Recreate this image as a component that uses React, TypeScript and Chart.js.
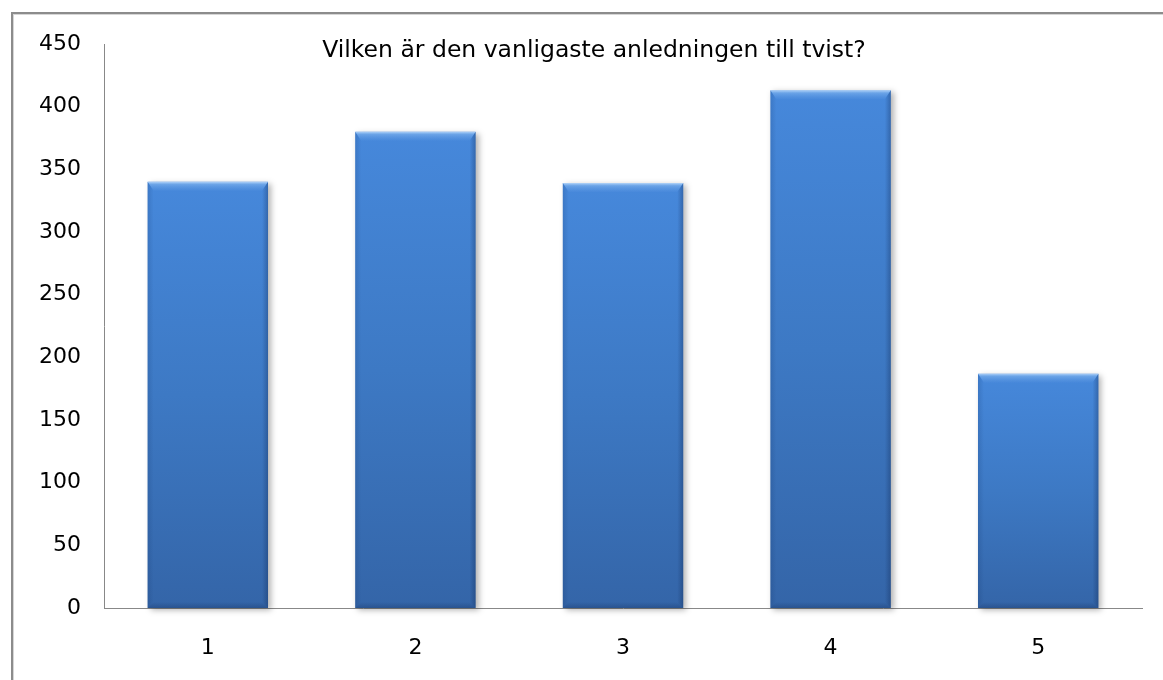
import React, { useEffect, useRef } from 'react';
import { Chart, registerables } from 'chart.js';

Chart.register(...registerables);

const categories: string[] = ['1', '2', '3', '4', '5'];
const values: number[] = [340, 380, 339, 413, 187];
const yMin = 0;
const yMax = 450;
const yStep = 50;
const titleText = 'Vilken är den vanligaste anledningen till tvist?';

const FONT = "'DejaVu Sans', 'Liberation Sans', Arial, sans-serif";

const shadowPlugin = {
  id: 'barShadowBevel',
  beforeDatasetsDraw(chart: any) {
    const ctx = chart.ctx;
    ctx.save();
    ctx.shadowColor = 'rgba(0,0,0,0.3)';
    ctx.shadowBlur = 6;
    ctx.shadowOffsetX = 3;
    ctx.shadowOffsetY = 2;
  },
  afterDatasetsDraw(chart: any) {
    const ctx = chart.ctx;
    ctx.restore();
    const meta = chart.getDatasetMeta(0);
    meta.data.forEach((bar: any) => {
      const { x, y, base, width } = bar.getProps(['x', 'y', 'base', 'width'], true);
      const l = x - width / 2;
      const r = x + width / 2;
      const t = y;
      const b = base;
      const bv = 9;
      const sv = 6;
      ctx.save();
      // left bevel
      const lg = ctx.createLinearGradient(l, 0, l + sv, 0);
      lg.addColorStop(0, 'rgba(10,40,90,0.16)');
      lg.addColorStop(1, 'rgba(10,40,90,0.0)');
      ctx.beginPath();
      ctx.moveTo(l, t); ctx.lineTo(l + sv, t + bv); ctx.lineTo(l + sv, b - sv); ctx.lineTo(l, b); ctx.closePath();
      ctx.fillStyle = lg;
      ctx.fill();
      // right bevel
      const rg = ctx.createLinearGradient(r - sv, 0, r, 0);
      rg.addColorStop(0, 'rgba(10,30,70,0.0)');
      rg.addColorStop(1, 'rgba(10,30,70,0.3)');
      ctx.beginPath();
      ctx.moveTo(r, t); ctx.lineTo(r - sv, t + bv); ctx.lineTo(r - sv, b - sv); ctx.lineTo(r, b); ctx.closePath();
      ctx.fillStyle = rg;
      ctx.fill();
      // bottom bevel
      const bg = ctx.createLinearGradient(0, b - sv, 0, b);
      bg.addColorStop(0, 'rgba(10,30,70,0.0)');
      bg.addColorStop(1, 'rgba(10,30,70,0.25)');
      ctx.beginPath();
      ctx.moveTo(l, b); ctx.lineTo(l + sv, b - sv); ctx.lineTo(r - sv, b - sv); ctx.lineTo(r, b); ctx.closePath();
      ctx.fillStyle = bg;
      ctx.fill();
      // top bevel
      const tg = ctx.createLinearGradient(0, t, 0, t + bv);
      tg.addColorStop(0, 'rgba(205,230,255,0.8)');
      tg.addColorStop(0.3, 'rgba(150,196,245,0.45)');
      tg.addColorStop(1, 'rgba(120,170,235,0.05)');
      ctx.beginPath();
      ctx.moveTo(l, t); ctx.lineTo(r, t); ctx.lineTo(r - sv, t + bv); ctx.lineTo(l + sv, t + bv); ctx.closePath();
      ctx.fillStyle = tg;
      ctx.fill();
      ctx.restore();
    });
  },
};

const titlePlugin = {
  id: 'innerTitle',
  afterDraw(chart: any) {
    const ctx = chart.ctx;
    const area = chart.chartArea;
    ctx.save();
    ctx.font = `23.5px ${FONT}`;
    ctx.fillStyle = '#000';
    ctx.textAlign = 'center';
    ctx.textBaseline = 'middle';
    ctx.fillText(titleText, area.left + 490, area.top + 7);
    ctx.restore();
  },
};

export default function App() {
  const ref = useRef<HTMLCanvasElement | null>(null);

  useEffect(() => {
    if (!ref.current) return;
    const chart = new Chart(ref.current, {
      type: 'bar',
      data: {
        labels: categories,
        datasets: [
          {
            data: values,
            borderWidth: 0,
            clip: false as any,
            categoryPercentage: 1,
            barPercentage: 0.58,
            backgroundColor: (c: any) => {
              const ch = c.chart;
              const ys = ch.scales && ch.scales.y;
              if (!ys || c.raw === undefined) return '#3f7fd0';
              const top = ys.getPixelForValue(c.raw);
              const bot = ys.getPixelForValue(0);
              if (!isFinite(top) || !isFinite(bot)) return '#3f7fd0';
              const g = ch.ctx.createLinearGradient(0, top, 0, bot);
              g.addColorStop(0, '#4688db');
              g.addColorStop(0.5, '#3d79c4');
              g.addColorStop(1, '#3465a8');
              return g;
            },
          },
        ],
      },
      options: {
        responsive: false,
        animation: false,
        events: [],
        layout: { padding: { top: 44, right: 21, left: 0, bottom: 0 } },
        plugins: {
          legend: { display: false },
          title: { display: false },
          tooltip: { enabled: false },
        },
        scales: {
          x: {
            grid: { display: false, drawTicks: false },
            border: { display: true, color: '#888888', width: 1 },
            ticks: { color: '#000', font: { family: FONT, size: 22 }, padding: 27 },
            afterFit: (s: any) => { s.height = 72; },
          },
          y: {
            min: yMin,
            max: yMax,
            grid: { display: false, drawTicks: false },
            border: { display: true, color: '#888888', width: 1 },
            ticks: { stepSize: yStep, color: '#000', font: { family: FONT, size: 22 }, padding: 23 },
            afterFit: (s: any) => { s.width = 104; },
          },
        },
      },
      plugins: [shadowPlugin, titlePlugin],
    });
    return () => chart.destroy();
  }, []);

  return (
    <div style={{ position: 'fixed', left: 0, top: 0, width: 1163, height: 680, background: '#fff', overflow: 'hidden' }}>
      <div
        style={{
          position: 'absolute', left: 11, top: 12, right: -20, bottom: -20,
          borderLeft: '2px solid #8c8c8c', borderTop: '2px solid #8c8c8c',
          boxShadow: 'inset 1px 1px 0 #d6d6d6',
        }}
      />
      <canvas ref={ref} width={1163} height={680} style={{ position: 'absolute', left: 0, top: 0, display: 'block' }} />
    </div>
  );
}
